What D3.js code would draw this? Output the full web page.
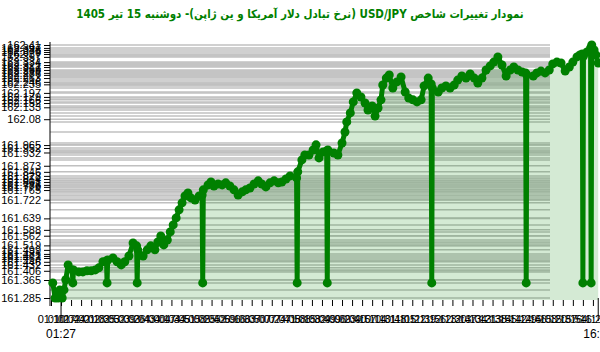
<!DOCTYPE html>
<html>
<head>
<meta charset="utf-8">
<script src="https://cdn.jsdelivr.net/npm/d3@7"></script>
<style>
  body { margin: 0; background: #fff; }
  svg { display: block; }
</style>
</head>
<body>
<div id="chart"></div>
<script>
var title = "نمودار تغییرات شاخص USD/JPY (نرخ تبادل دلار آمریکا و ین ژاپن)-  دوشنبه  15 تیر 1405";

// time of each quote
var times = [
  "01:13","01:17","01:22","01:25","01:29","01:32","01:35","01:39","01:46","01:47","01:48","01:57",
  "02:04","02:11","02:18","02:25","02:31","02:38","02:44","02:45","02:46","02:55",
  "03:02","03:09","03:15","03:22","03:29","03:35","03:36","03:37","03:46","03:53","03:59",
  "04:06","04:11","04:16","04:21","04:27","04:32","04:37","04:42","04:47","04:52","04:57",
  "05:02","05:07","05:14","05:21","05:26","05:27","05:28","05:36","05:41","05:46","05:53",
  "06:00","06:06","06:13","06:20","06:27","06:34","06:40","06:47","06:54",
  "07:01","07:07","07:14","07:21","07:28","07:35","07:41","07:48","07:55",
  "08:06","08:07","08:08","08:15","08:20","08:27","08:34","08:39","08:44","08:51","08:57","08:58","08:59",
  "09:09","09:16","09:23","09:28","09:31","09:37","09:42","09:48","09:55",
  "10:02","10:07","10:14","10:19","10:24","10:29","10:32","10:38","10:43","10:49","10:56",
  "11:03","11:10","11:16","11:23","11:30","11:37","11:42","11:49","11:54","11:55","11:56",
  "12:06","12:12","12:19","12:26","12:33","12:39","12:46","12:53",
  "13:00","13:07","13:13","13:20","13:27","13:34","13:40","13:47","13:54",
  "14:01","14:08","14:14","14:21","14:28","14:34","14:35","14:36","14:47","14:53",
  "15:00","15:07","15:14","15:20","15:27","15:34","15:41","15:48","15:54",
  "16:01","16:06","16:10","16:11","16:12","16:18","16:24","16:25","16:26","16:30","16:33","16:37"
];

// USD/JPY quote at each time
var values = [
  161.352,161.285,161.285,161.321,161.285,161.321,161.366,161.432,161.410,161.352,161.410,161.401,
  161.401,161.406,161.406,161.410,161.419,161.446,161.450,161.352,161.454,161.463,
  161.446,161.432,161.446,161.472,161.530,161.517,161.352,161.499,161.472,161.499,161.517,
  161.499,161.534,161.561,161.521,161.543,161.579,161.610,161.641,161.677,161.708,161.739,
  161.752,161.730,161.721,161.739,161.743,161.352,161.766,161.788,161.801,161.783,161.792,
  161.788,161.797,161.783,161.766,161.743,161.757,161.766,161.774,161.792,
  161.806,161.792,161.779,161.797,161.806,161.797,161.801,161.814,161.828,
  161.819,161.352,161.846,161.899,161.921,161.921,161.943,161.966,161.908,161.934,161.939,161.352,161.943,
  161.930,161.921,161.974,162.023,162.068,162.108,162.157,162.197,162.179,
  162.152,162.121,162.139,162.094,162.130,162.166,162.232,162.263,162.277,162.219,162.246,
  162.268,162.201,162.174,162.166,162.157,162.166,162.228,162.263,162.237,161.352,162.219,
  162.201,162.219,162.228,162.219,162.232,162.254,162.272,162.263,
  162.281,162.263,162.241,162.263,162.299,162.317,162.334,162.357,162.321,
  162.272,162.299,162.312,162.299,162.290,162.286,161.352,162.277,162.272,162.286,
  162.294,162.286,162.299,162.326,162.334,162.330,162.294,162.312,162.334,
  162.357,162.366,162.370,161.352,162.361,162.379,162.397,161.352,162.410,162.388,162.366,162.330
];

// labelled y ticks
var yTicks = [
  162.41, 162.397, 162.388, 162.379, 162.37, 162.357, 162.334, 162.321, 162.312, 162.299,
  162.286, 162.277, 162.263, 162.246, 162.235, 162.197, 162.179, 162.166, 162.152, 162.133, 162.08,
  161.965, 161.952, 161.932, 161.873, 161.846, 161.828, 161.814, 161.801, 161.788, 161.779,
  161.765, 161.722, 161.639, 161.588, 161.562, 161.519, 161.499, 161.481, 161.472, 161.463,
  161.446, 161.432, 161.406, 161.365, 161.285
];

// first and last quote marks under the axis
var edgeLabels = ["01:27", "16:37"];

var width = 600, height = 352;

var parseTime = function (s) {
    var p = s.split(":");
    return (+p[0]) * 60 + (+p[1]);
};
var fmtTime = function (m) {
    return d3.format("02d")(Math.floor(m / 60)) + ":" + d3.format("02d")(m % 60);
};

var data = times.map(function (t, i) { return { t: parseTime(t), v: values[i] }; });

var x = d3.scaleLinear().domain([70, 1000]).range([51, 600]);
var y = d3.scaleLinear().domain([161.285, 162.41]).range([298, 45]);

var svg = d3.select("#chart")
    .append("svg")
    .attr("width", width)
    .attr("height", height);

// title
svg.append("text")
    .attr("x", 300)
    .attr("y", 18)
    .attr("direction", "rtl")
    .attr("text-anchor", "middle")
    .style("font", "bold 11.5px 'DejaVu Sans Condensed', 'DejaVu Sans', sans-serif")
    .style("fill", "#008000")
    .text(title);

// gray lines at every quoted level
var levels = Array.from(new Set(values.concat(yTicks)));
svg.append("g")
    .selectAll("line")
    .data(levels)
    .enter()
    .append("line")
    .attr("x1", 50)
    .attr("x2", 550)
    .attr("y1", function (d) { return y(d); })
    .attr("y2", function (d) { return y(d); })
    .attr("stroke", "#c0c0c0")
    .attr("stroke-width", 1.5);

// area under the line
var area = d3.area()
    .x(function (d) { return x(d.t); })
    .y0(300)
    .y1(function (d) { return y(d.v); });

svg.append("path")
    .datum(data)
    .attr("d", area)
    .style("fill", "rgba(0,128,0,0.17)");

// y axis
svg.append("g")
    .attr("transform", "translate(50,0)")
    .call(d3.axisLeft(y).tickValues(yTicks).tickFormat(function (d) { return d; }).tickSize(6).tickSizeOuter(0))
    .call(function (g) {
        g.selectAll("text").style("font", "11px Arial, 'Liberation Sans', sans-serif").attr("fill", "#000");
        g.select(".domain").attr("d", "M0,42V306");
    });

// x axis
var xTicks = d3.range(70, 1000, 17);
svg.append("g")
    .attr("transform", "translate(0,300)")
    .call(d3.axisBottom(x).tickValues(xTicks).tickFormat(fmtTime).tickSize(6).tickPadding(9))
    .call(function (g) {
        g.select(".domain").remove();
        g.selectAll("text").style("font", "11px Arial, 'Liberation Sans', sans-serif").attr("fill", "#000");
    });

// first / last marks
var edges = svg.append("g")
    .selectAll("g")
    .data(edgeLabels)
    .enter()
    .append("g");

edges.append("line")
    .attr("x1", function (d) { return x(parseTime(d)); })
    .attr("x2", function (d) { return x(parseTime(d)); })
    .attr("y1", 298)
    .attr("y2", 321)
    .attr("stroke", "#000");

edges.append("text")
    .attr("x", function (d) { return x(parseTime(d)); })
    .attr("y", 338)
    .attr("text-anchor", "middle")
    .style("font", "12px Arial, 'Liberation Sans', sans-serif")
    .text(function (d) { return d; });

// price line
var line = d3.line()
    .x(function (d) { return x(d.t); })
    .y(function (d) { return y(d.v); });

svg.append("path")
    .datum(data)
    .attr("d", line)
    .attr("fill", "none")
    .attr("stroke", "#008000")
    .attr("stroke-width", 5)
    .attr("stroke-linejoin", "round");

svg.append("g")
    .selectAll("circle")
    .data(data)
    .enter()
    .append("circle")
    .attr("cx", function (d) { return x(d.t); })
    .attr("cy", function (d) { return y(d.v); })
    .attr("r", 4.5)
    .style("fill", "#008000");
</script>
</body>
</html>
